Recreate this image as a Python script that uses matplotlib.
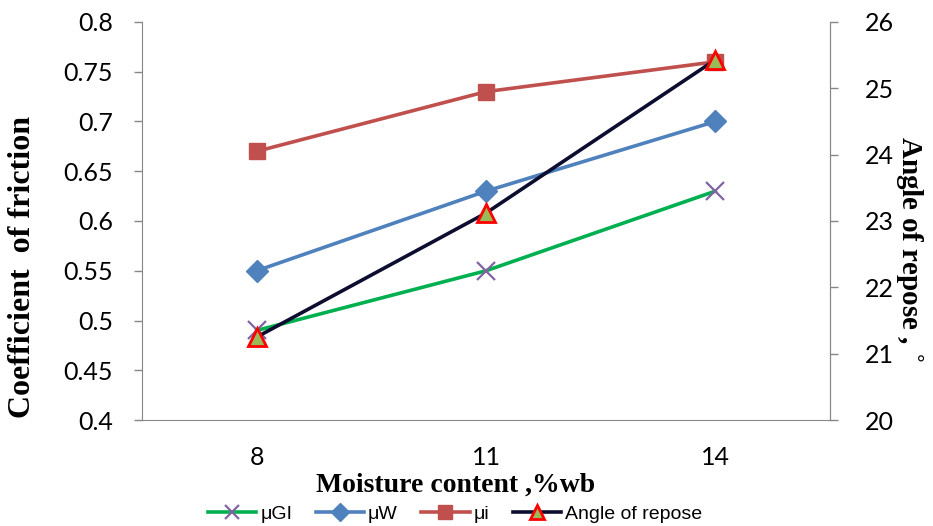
import numpy as np
import matplotlib.pyplot as plt

# data
moisture = ["8", "11", "14"]
mu_gi = [0.49, 0.55, 0.63]
mu_w = [0.55, 0.63, 0.70]
mu_i = [0.67, 0.73, 0.76]
angle_repose = [21.25, 23.12, 25.43]

x = np.arange(len(moisture))
gray = "#868686"

fig = plt.figure(figsize=(9.33, 5.26), dpi=100)
ax = fig.add_axes([0.1522, 0.2015, 0.7374, 0.7567])
ax2 = ax.twinx()

ax.plot(x, mu_gi, color="#00B050", lw=2.6, marker="x", ms=13, mec="#8064A2",
        mew=1.6, label="μGI", zorder=3)
ax.plot(x, mu_w, color="#4F81BD", lw=2.6, marker="D", ms=11, mfc="#4F81BD",
        mec="#4F81BD", label="μW", zorder=3)
ax.plot(x, mu_i, color="#C0504D", lw=2.6, marker="s", ms=12, mfc="#C0504D",
        mec="#C0504D", label="μi", zorder=3)
ax2.plot(x, angle_repose, color="#0D0D30", lw=2.6, marker="^", ms=13,
         mfc="#9BBB59", mec="#FF0000", mew=2, label="Angle of repose")

ax.set_xlim(-0.5, 2.5)
ax.set_ylim(0.4, 0.8)
ax.set_yticks(np.arange(0.4, 0.801, 0.05))
ax.set_yticklabels(["0.4", "0.45", "0.5", "0.55", "0.6", "0.65", "0.7", "0.75", "0.8"])
ax2.set_ylim(20, 26)
ax2.set_yticks(range(20, 27))

ax.set_xticks(x)
ax.set_xticklabels(moisture, fontsize=18, family="Lato")
ax.tick_params(axis="x", length=0, pad=19)
ax.tick_params(axis="y", length=6, color=gray, width=1, labelsize=18, pad=15)
ax2.tick_params(axis="y", length=6, color=gray, width=1, labelsize=18, pad=19)
for a in (ax, ax2):
    for lab in a.get_yticklabels():
        lab.set_family("Lato")
    a.spines["top"].set_visible(False)
    for s in ("left", "right", "bottom"):
        a.spines[s].set_color(gray)
ax2.spines["left"].set_visible(False)
ax2.spines["bottom"].set_visible(False)

ax.set_xlabel("Moisture content ,%wb", fontsize=20, fontweight="bold",
              family="Liberation Serif")
ax.xaxis.set_label_coords(0.456, -0.163)
ax.xaxis.label.set_va("center")
ax.set_ylabel("Coefficient  of friction", fontsize=23, fontweight="bold",
              family="Liberation Serif")
ax.yaxis.set_label_coords(-0.173, 0.384)
ax.yaxis.label.set_va("center")
ax2.set_ylabel("Angle of repose , $^{\\circ}$", fontsize=21, fontweight="bold",
               family="Liberation Serif", rotation=270)
ax2.yaxis.set_label_coords(1.115, 0.43)
ax2.yaxis.label.set_va("center")

handles = ax.get_lines() + ax2.get_lines()
fig.legend(handles, [h.get_label() for h in handles], loc="center",
           bbox_to_anchor=(455 / 933, 0.022), ncol=4, frameon=False,
           prop={"family": "Liberation Sans", "size": 14}, markerscale=0.8,
           handlelength=2.5, columnspacing=1.2, handletextpad=0.2)

plt.savefig("out.png", dpi=100)
